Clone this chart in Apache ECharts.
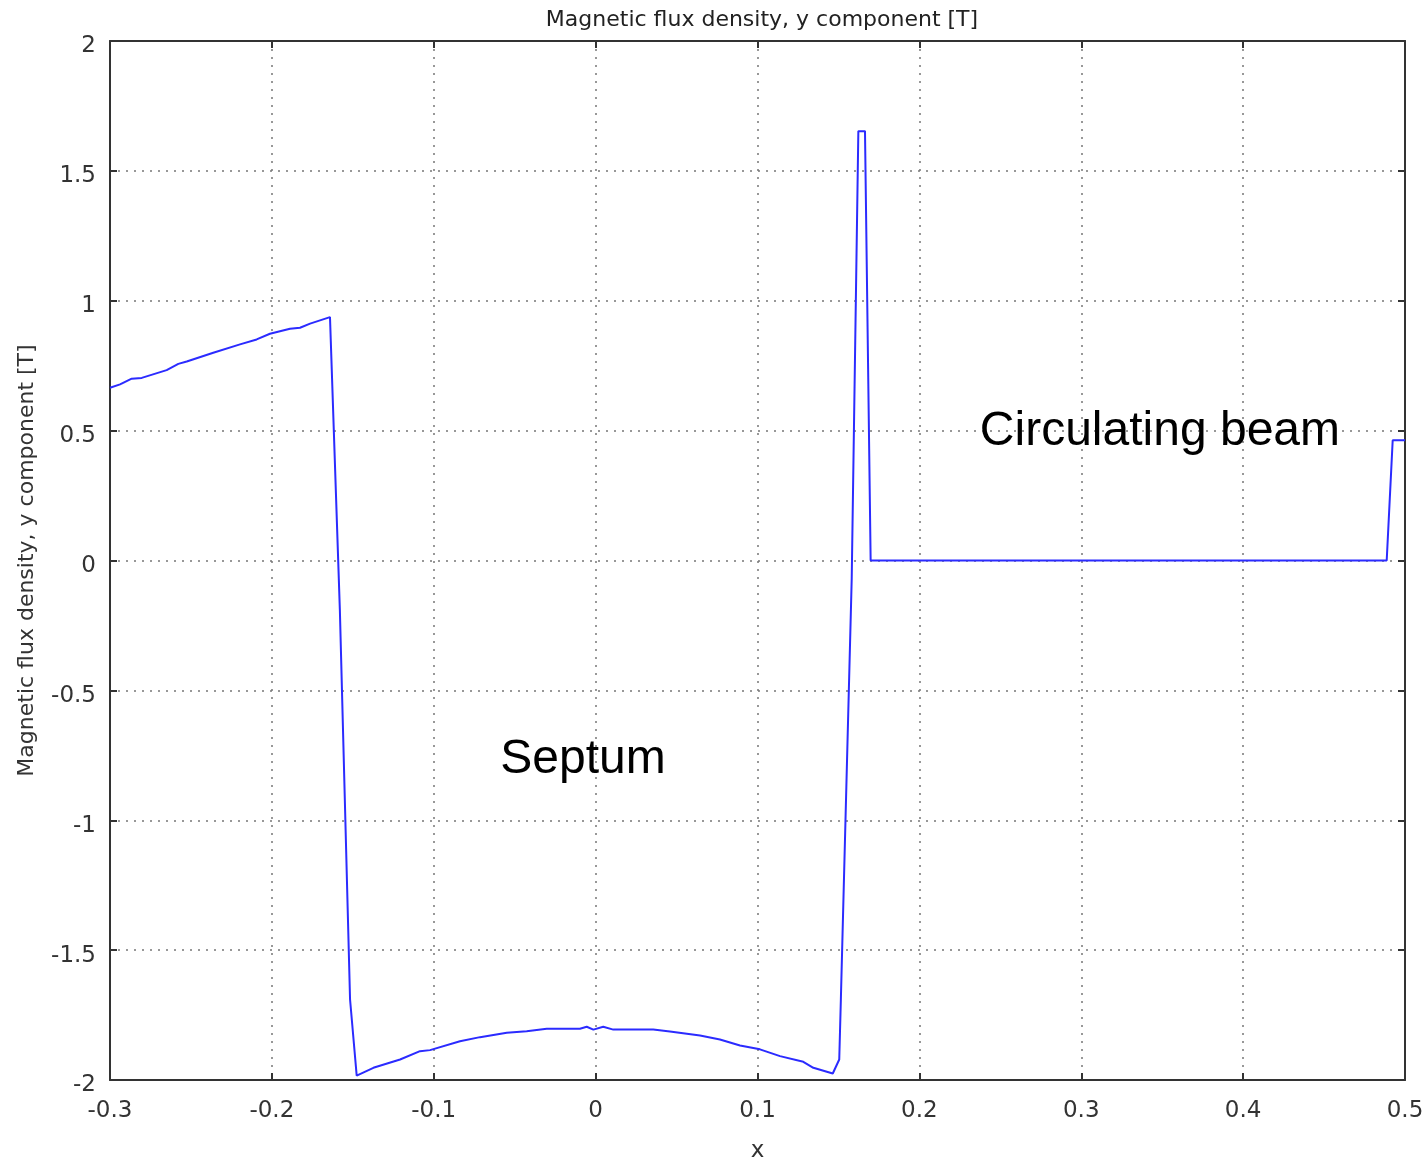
<!DOCTYPE html>
<html>
<head>
<meta charset="utf-8">
<title>Magnetic flux density</title>
<script src="https://cdn.jsdelivr.net/npm/echarts@6/dist/echarts.min.js"></script>
<style>
  html, body { margin: 0; padding: 0; background: #fff; }
  #chart { width: 1428px; height: 1163px; }
</style>
</head>
<body>
<div id="chart"></div>
<script>
// x positions [m] and By values [T]
const xValues = [-0.3, -0.2938, -0.2866, -0.2804, -0.265, -0.2578, -0.2526, -0.2362, -0.2197, -0.2094,
  -0.2012, -0.1888, -0.1826, -0.1764, -0.1641, -0.158, -0.1517, -0.1476, -0.1373, -0.1208,
  -0.1085, -0.1023, -0.0838, -0.0714, -0.0549, -0.0426, -0.0302, -0.0097, -0.0055, -0.0014,
  0.0047, 0.0109, 0.0356, 0.0459, 0.0645, 0.0768, 0.0892, 0.1015, 0.1139, 0.1283,
  0.1345, 0.1465, 0.1505, 0.1515, 0.1582, 0.1623, 0.1664, 0.1699, 0.4887, 0.4924, 0.5];
const byValues = [0.665, 0.678, 0.70, 0.703, 0.733, 0.757, 0.766, 0.80, 0.832, 0.851,
  0.873, 0.892, 0.896, 0.912, 0.937, -0.19, -1.69, -1.983, -1.953, -1.921,
  -1.889, -1.885, -1.851, -1.835, -1.818, -1.812, -1.803, -1.803, -1.795, -1.806,
  -1.795, -1.806, -1.806, -1.813, -1.829, -1.844, -1.867, -1.882, -1.908, -1.93,
  -1.953, -1.975, -1.921, -1.69, -0.07, 1.653, 1.653, 0, 0, 0.463, 0.463];

// text annotations (data coordinates)
const notes = [
  { name: 'Circulating beam', coord: [0.3486, 0.497] },
  { name: 'Septum', coord: [-0.0078, -0.766] },
];

const titleText = 'Magnetic flux density, y component [T]';
const xName = 'x';
const yName = 'Magnetic flux density, y component [T]';

const chart = echarts.init(document.getElementById('chart'));

const gridLine = {
  show: true,
  lineStyle: { color: '#777', type: [2, 6], width: 1.5 },
};
const frameLine = { show: true, onZero: false, lineStyle: { color: '#333', width: 2 } };
const innerTick = { show: true, inside: true, length: 7, lineStyle: { color: '#333', width: 2 } };
const labelFont = { fontFamily: 'DejaVu Sans', fontSize: 23, color: '#333' };

const option = {
  animation: false,
  backgroundColor: '#fff',
  title: {
    text: titleText,
    left: 757,
    textAlign: 'center',
    top: 4,
    textStyle: { fontFamily: 'DejaVu Sans', fontSize: 22, fontWeight: 'normal', color: '#222' },
  },
  grid: {
    left: 110,
    right: 23,
    top: 41,
    bottom: 83,
    containLabel: false,
    outerBoundsMode: 'none',
  },
  xAxis: [
    {
      type: 'value',
      min: -0.3,
      max: 0.5,
      interval: 0.1,
      name: xName,
      nameLocation: 'middle',
      nameGap: 60,
      nameTextStyle: labelFont,
      axisLine: frameLine,
      axisTick: innerTick,
      axisLabel: Object.assign({ margin: 20, formatter: v => String(+v.toFixed(1)) }, labelFont),
      splitLine: gridLine,
    },
    {
      type: 'value',
      position: 'top',
      min: -0.3,
      max: 0.5,
      interval: 0.1,
      axisLine: frameLine,
      axisTick: innerTick,
      axisLabel: { show: false },
      splitLine: { show: false },
    },
  ],
  yAxis: [
    {
      type: 'value',
      min: -2,
      max: 2,
      interval: 0.5,
      name: yName,
      nameLocation: 'middle',
      nameGap: 72,
      nameRotate: 90,
      nameTextStyle: Object.assign({}, labelFont, { fontSize: 22 }),
      axisLine: frameLine,
      axisTick: innerTick,
      axisLabel: Object.assign({ margin: 14, verticalAlign: 'top', padding: [-6, 0, 0, 0] }, labelFont),
      splitLine: gridLine,
    },
    {
      type: 'value',
      position: 'right',
      min: -2,
      max: 2,
      interval: 0.5,
      axisLine: frameLine,
      axisTick: innerTick,
      axisLabel: { show: false },
      splitLine: { show: false },
    },
  ],
  series: [
    {
      name: 'By',
      type: 'line',
      data: xValues.map((x, i) => [x, byValues[i]]),
      showSymbol: false,
      symbol: 'none',
      lineStyle: { color: '#2b2bff', width: 2 },
      markPoint: {
        symbol: 'circle',
        symbolSize: 0,
        silent: true,
        label: {
          show: true,
          position: 'inside',
          formatter: '{b}',
          fontFamily: 'Liberation Sans',
          fontSize: 48,
          color: '#000',
        },
        data: notes.map(n => ({ name: n.name, coord: n.coord })),
      },
    },
  ],
};

chart.setOption(option);
</script>
</body>
</html>
